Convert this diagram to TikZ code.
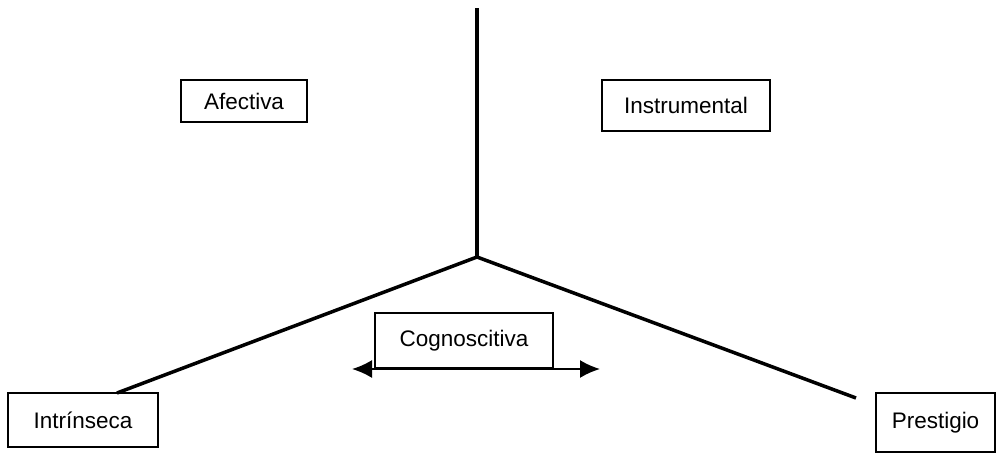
\documentclass[tikz,border=0pt]{standalone}
\usepackage{fontspec}
\setmainfont{Liberation Sans}
\usetikzlibrary{arrows.meta,positioning}

\tikzset{punta/.tip={Latex[length=4mm,width=3.6mm]}}

\begin{document}
\begin{tikzpicture}[
  x=0.02cm, y=-0.02cm, >=Latex,
  eje/.style={line width=2pt},
  caja/.style={draw, line width=1pt, font=\fontsize{12.8}{15}\selectfont, inner sep=0pt},
]
  \useasboundingbox (0,0) rectangle (996,453);
  % ejes
  \coordinate (centro) at (477,257);
  \coordinate (arriba) at (477,8);
  \coordinate (finizq) at (117,393);
  \coordinate (finder) at (856,398);
  \draw[eje] (arriba) -- (centro);
  \draw[eje] (centro) -- (finizq);
  \draw[eje] (centro) -- (finder);
  % cajas
  \node[caja, minimum width=2.52cm, minimum height=0.84cm] (afectiva) at (244,101) {Afectiva};
  \node[caja, minimum width=3.36cm, minimum height=1.02cm] (instrumental) at (686,105.5) {Instrumental};
  \node[caja, minimum width=3.56cm, minimum height=1.1cm] (cognoscitiva) at (464,340.5) {Cognoscitiva};
  \node[caja, minimum width=3cm, minimum height=1.08cm] (intrinseca) at (83,420) {Intrínseca};
  \node[caja, minimum width=2.38cm, minimum height=1.18cm] (prestigio) at (935.5,422.5) {Prestigio};
  % flecha doble
  \coordinate (flizq) at (352,369);
  \coordinate (flder) at (600,369);
  \draw[line width=1.1pt, punta-punta] (flizq) -- (flder);
\end{tikzpicture}
\end{document}
